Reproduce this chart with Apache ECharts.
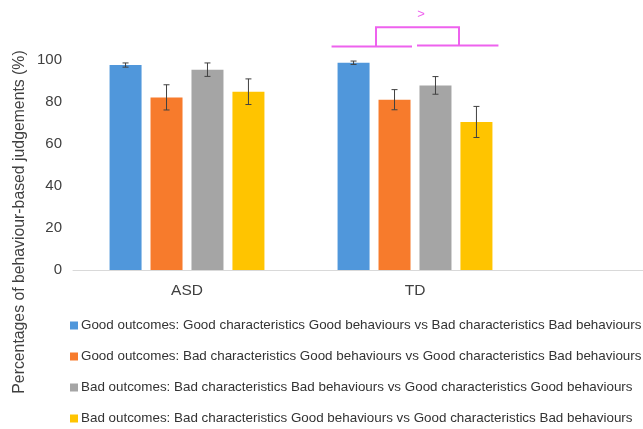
<!DOCTYPE html>
<html><head><meta charset="utf-8">
<script src="https://cdn.jsdelivr.net/npm/echarts@6/dist/echarts.min.js"></script>
<style>html,body{margin:0;padding:0;background:#fff}#c{width:643px;height:429px}</style>
</head><body><div id="c"></div>
<script>
const categories = ['ASD', 'TD'];
const seriesNames = [
  'Good outcomes: Good characteristics Good behaviours vs Bad characteristics Bad behaviours',
  'Good outcomes: Bad characteristics Good behaviours vs Good characteristics Bad behaviours',
  'Bad outcomes: Bad characteristics Bad behaviours vs Good characteristics Good behaviours',
  'Bad outcomes: Bad characteristics Good behaviours vs Good characteristics Bad behaviours'
];
const goodGood = [97.6, 98.7];
const goodBad = [82.2, 81.1];
const badBad = [95.4, 87.9];
const badGood = [84.9, 70.5];
const errGoodGood = [1.0, 0.8];
const errGoodBad = [6.0, 4.8];
const errBadBad = [3.2, 4.2];
const errBadGood = [6.1, 7.4];
const yTicks = [0, 20, 40, 60, 80, 100];
// significance bracket (TD group): low level, high level, label
const bracketLow = 106.4;
const bracketHigh = 115.6;
const bracketLabel = '>';

const values = [goodGood, goodBad, badBad, badGood];
const errs = [errGoodGood, errGoodBad, errBadBad, errBadGood];
const colors = ['#5097DB', '#F77B2C', '#A5A5A5', '#FFC400'];
const FONT = '"Liberation Sans", Arial, sans-serif';
const BAR_W = 32, GAP = 0.28, PITCH = BAR_W * (1 + GAP);

const chart = echarts.init(document.getElementById('c'), null, {renderer: 'canvas'});

const series = [];
values.forEach((v, i) => {
  series.push({
    name: seriesNames[i], type: 'bar', data: v, barWidth: BAR_W, barGap: (GAP * 100) + '%',
    itemStyle: {color: colors[i]}, z: 2
  });
});
values.forEach((v, i) => {
  series.push({
    type: 'custom', name: 'err' + i, z: 5, silent: true,
    data: v.map((val, k) => [k, val, errs[i][k]]),
    renderItem: function (params, api) {
      const x = api.value(0), y = api.value(1), e = api.value(2);
      const hi = api.coord([x, y + e]);
      const lo = api.coord([x, y - e]);
      const cx = hi[0] + (i - 1.5) * PITCH;
      const cap = 3;
      const st = {stroke: '#404040', lineWidth: 1};
      return {type: 'group', children: [
        {type: 'line', shape: {x1: cx, y1: hi[1], x2: cx, y2: lo[1]}, style: st},
        {type: 'line', shape: {x1: cx - cap, y1: hi[1], x2: cx + cap, y2: hi[1]}, style: st},
        {type: 'line', shape: {x1: cx - cap, y1: lo[1], x2: cx + cap, y2: lo[1]}, style: st}
      ]};
    }
  });
});
series.push({
  type: 'custom', name: 'bracket', z: 6, silent: true, clip: false,
  data: [[1, bracketLow, bracketHigh]],
  renderItem: function (params, api) {
    const c = api.coord([api.value(0), api.value(1)]);
    const t = api.coord([api.value(0), api.value(2)]);
    const cx = c[0], yl = c[1], yh = t[1];
    const st = {stroke: '#EE62EE', lineWidth: 2};
    const l1 = cx - 1.5 * PITCH - BAR_W / 2 - 6, r1 = cx - 3;
    const l2 = cx + 2, r2 = cx + 1.5 * PITCH + BAR_W / 2 + 6;
    const v1 = cx - 39, v2 = cx + 44;
    return {type: 'group', children: [
      {type: 'line', shape: {x1: l1, y1: yl, x2: r1, y2: yl}, style: st},
      {type: 'line', shape: {x1: l2, y1: yl - 1, x2: r2, y2: yl - 1}, style: st},
      {type: 'polyline', shape: {points: [[v1, yl], [v1, yh], [v2, yh], [v2, yl - 1]]}, style: Object.assign({fill: null}, st)},
      {type: 'text', x: cx + 6, y: yh - 13, style: {text: bracketLabel, fill: '#EE62EE', font: '13px ' + FONT, align: 'center', verticalAlign: 'middle'}}
    ]};
  }
});

const yTitle = {type: 'text', x: 20, y: 222, rotation: Math.PI / 2,
  style: {text: 'Percentages of behaviour-based judgements (%)', fill: '#404040', font: '15.8px ' + FONT, align: 'center', verticalAlign: 'middle'}};

chart.setOption({
  animation: false,
  textStyle: {fontFamily: FONT},
  grid: {left: 73, right: 114, top: 60, bottom: 159, containLabel: false},
  xAxis: {
    type: 'category', data: categories,
    axisLine: {show: true, lineStyle: {color: '#D9D9D9', width: 1}},
    axisTick: {show: false},
    axisLabel: {color: '#404040', fontSize: 15.5, margin: 13, fontFamily: FONT}
  },
  yAxis: {
    type: 'value', min: yTicks[0], max: yTicks[yTicks.length - 1], interval: 20,
    axisLine: {show: false}, axisTick: {show: false}, splitLine: {show: false},
    axisLabel: {color: '#404040', fontSize: 15, margin: 11, fontFamily: FONT}
  },
  legend: {
    type: 'plain', data: seriesNames, orient: 'vertical', left: 70, top: 319, height: 110, padding: 0,
    itemGap: 18,
    itemWidth: 8, itemHeight: 8, icon: 'rect', itemStyle: {borderWidth: 0},
    textStyle: {color: '#333333', fontSize: 13.4, fontFamily: FONT, padding: [0, 0, 0, -2]}
  },
  graphic: [yTitle],
  series: series
});

// extend the category axis baseline to the right edge, as in the original
const end = chart.convertToPixel({gridIndex: 0}, [1, 0]);
const gridRight = 643 - 114;
chart.setOption({graphic: [
  yTitle,
  {type: 'line', shape: {x1: gridRight, y1: end[1] + 0.5, x2: 643, y2: end[1] + 0.5}, style: {stroke: '#D9D9D9', lineWidth: 1}}
]});
</script>
</body></html>
